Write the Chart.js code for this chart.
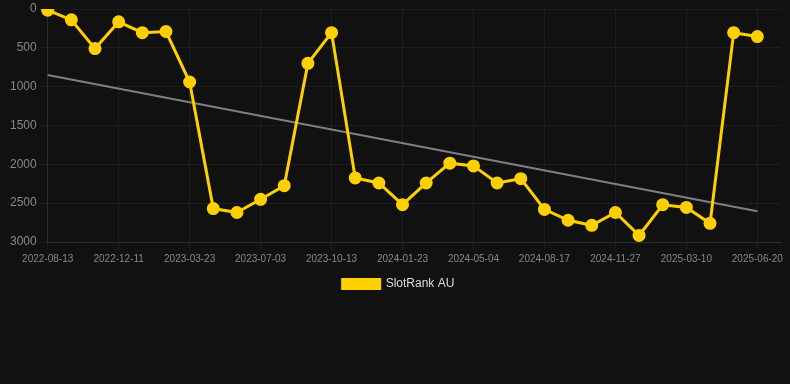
<!DOCTYPE html>
<html>
<head>
<meta charset="utf-8">
<script src="https://cdn.jsdelivr.net/npm/chart.js@4"></script>
<style>
    html, body { margin: 0; padding: 0; background: #111111; }
    #wrap { width: 790px; height: 300px; }
</style>
</head>
<body>
<div id="wrap"><canvas id="rankChart"></canvas></div>
<script>
// dates of each sample (last slot is an empty spacer)
const dates = [
    '2022-08-13', '2022-09-22', '2022-11-01', '2022-12-11', '2023-01-14', '2023-02-17',
    '2023-03-23', '2023-04-26', '2023-05-30', '2023-07-03', '2023-08-06', '2023-09-09',
    '2023-10-13', '2023-11-16', '2023-12-20', '2024-01-23', '2024-02-26', '2024-03-31',
    '2024-05-04', '2024-06-07', '2024-07-12', '2024-08-17', '2024-09-20', '2024-10-24',
    '2024-11-27', '2024-12-31', '2025-02-04', '2025-03-10', '2025-04-13', '2025-05-17',
    '2025-06-20', ''
];

// rank values (lower is better)
const ranks = [
    15, 140, 510, 165, 305, 290,
    940, 2570, 2620, 2450, 2275, 700,
    305, 2175, 2240, 2520, 2240, 1985,
    2020, 2240, 2185, 2580, 2720, 2785,
    2620, 2915, 2520, 2555, 2760, 305,
    355
];

// trend line end points
const trendStart = 850;
const trendEnd = 2605;
const trend = ranks.map((r, i) => i === 0 ? trendStart : (i === ranks.length - 1 ? trendEnd : null));

const yTicks = { min: 0, max: 3000, step: 500 };

const ctx = document.getElementById('rankChart').getContext('2d');
new Chart(ctx, {
    type: 'line',
    data: {
        labels: dates,
        datasets: [{
            label: 'SlotRank AU',
            data: ranks,
            borderColor: '#FFD000',
            backgroundColor: '#FFD000',
            borderWidth: 3,
            pointRadius: 5,
            pointHoverRadius: 6,
            tension: 0
        }, {
            label: 'trend',
            data: trend,
            spanGaps: true,
            borderColor: 'rgba(140,140,140,0.9)',
            borderWidth: 2,
            pointRadius: 0,
            fill: false
        }]
    },
    options: {
        responsive: true,
        maintainAspectRatio: false,
        animation: false,
        layout: { padding: { top: 0, right: 0, left: 7, bottom: 0 } },
        plugins: {
            legend: {
                position: 'bottom',
                labels: {
                    color: '#dddddd',
                    boxWidth: 37,
                    boxHeight: 9,
                    font: { size: 12 },
                    filter: item => item.text !== 'trend'
                }
            },
            tooltip: { enabled: false }
        },
        scales: {
            x: {
                grid: { color: 'rgba(255,255,255,0.05)' },
                border: { color: 'rgba(255,255,255,0.08)' },
                ticks: {
                    color: '#888888',
                    font: { size: 10 },
                    maxRotation: 0,
                    autoSkip: true,
                    maxTicksLimit: 11
                }
            },
            y: {
                reverse: true,
                min: yTicks.min,
                max: yTicks.max,
                grid: { color: 'rgba(255,255,255,0.05)' },
                border: { color: 'rgba(255,255,255,0.08)' },
                ticks: {
                    stepSize: yTicks.step,
                    color: '#888888',
                    font: { size: 12, lineHeight: 0.9 },
                    callback: v => String(v)
                }
            }
        }
    }
});
</script>
</body>
</html>
